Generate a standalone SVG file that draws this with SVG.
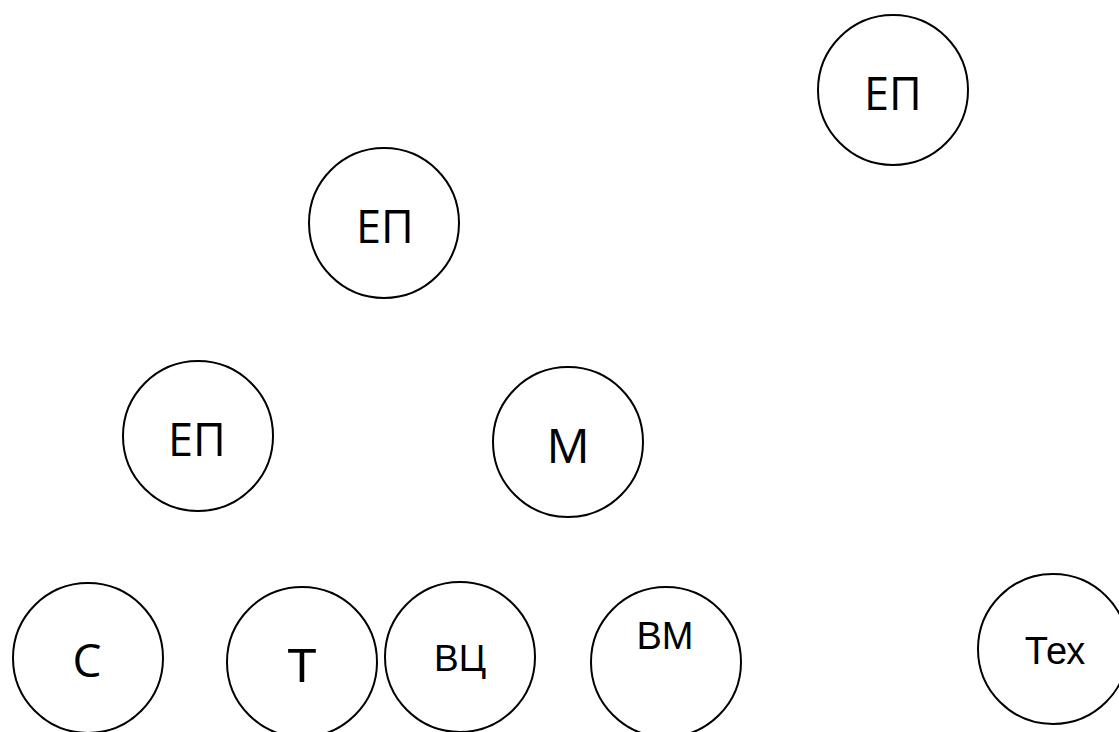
<svg xmlns="http://www.w3.org/2000/svg" width="1119" height="732" viewBox="0 0 1119 732">
<style>
.n{fill:#fff;stroke:#000;stroke-width:2}
.t{font-family:"Open Sans","Noto Sans",sans-serif;fill:#000;text-anchor:middle}
.a{font-family:"Liberation Sans",Arial,sans-serif;fill:#000;text-anchor:middle}
</style>
<rect width="1119" height="732" fill="#fff"/>
<g id="edges"/>
<g id="n1"><circle class="n" cx="893" cy="90" r="75"/><text class="t" x="893" y="110" font-size="45">ЕП</text></g>
<g id="n2"><circle class="n" cx="384" cy="223" r="75"/><text class="t" x="385" y="243" font-size="45">ЕП</text></g>
<g id="n3"><circle class="n" cx="198" cy="436" r="75"/><text class="t" x="197" y="456" font-size="45">ЕП</text></g>
<g id="n4"><circle class="n" cx="568" cy="442" r="75"/><text class="t" x="568" y="463" font-size="48">М</text></g>
<g id="n5"><circle class="n" cx="88" cy="658" r="75"/><text class="t" x="87" y="677" font-size="46">С</text></g>
<g id="n6"><circle class="n" cx="302" cy="662" r="75"/><text class="a" x="302" y="682" font-size="49">Т</text></g>
<g id="n7"><circle class="n" cx="460" cy="657" r="75"/><text class="a" x="460" y="671" font-size="37">ВЦ</text></g>
<g id="n8"><circle class="n" cx="666" cy="662" r="75"/><text class="a" x="665" y="649" font-size="38">ВМ</text></g>
<g id="n9"><circle class="n" cx="1053" cy="649" r="75"/><text class="a" x="1055" y="664" font-size="38">Тех</text></g>
</svg>
